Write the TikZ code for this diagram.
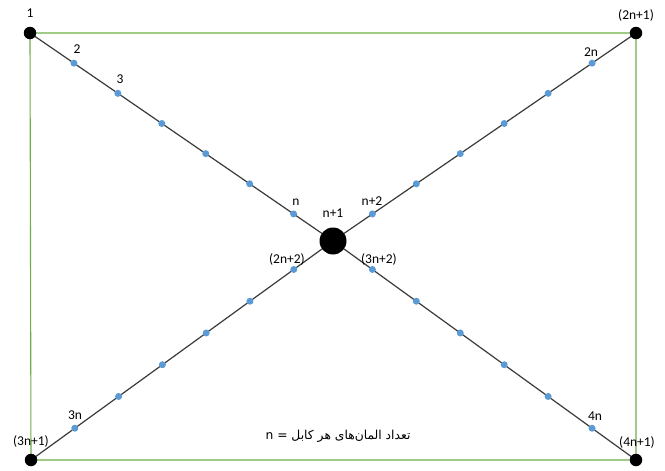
\documentclass[tikz,border=0pt]{standalone}
\usepackage{fontspec}
\setmainfont{Carlito}
\newfontfamily\arabicfont[Script=Arabic]{DejaVu Sans}
\TeXXeTstate=1
\usetikzlibrary{calc}
\definecolor{gline}{HTML}{70AD47}
\definecolor{bdot}{HTML}{5B9BD5}
\definecolor{cable}{HTML}{3A3A3A}
\begin{document}
\begin{tikzpicture}[x=1pt,y=-1pt,
  bigdot/.style={circle,fill=black,inner sep=0pt,minimum size=12.5pt},
  hub/.style={circle,fill=black,inner sep=0pt,minimum size=27pt},
  eldot/.style={circle,fill=bdot,inner sep=0pt,minimum size=7pt},
  lbl/.style={font=\fontsize{13.5}{15}\selectfont,inner sep=0pt},
  frameline/.style={draw=gline,line width=1.1pt},
  cableline/.style={draw=cable,line width=1.2pt}]
\useasboundingbox (0,0) rectangle (665,471);
\coordinate (p1) at (30,33);
\coordinate (p2) at (636,33);
\coordinate (p3) at (31,460);
\coordinate (p4) at (636,460);
\coordinate (pm) at (333,241);
% frame
\draw[frameline] (p1) -- (p2) -- (p4) -- (p3) -- cycle;
% cables
\foreach \c in {p1,p2,p3,p4} \draw[cableline] (\c) -- (pm);
% element dots
\foreach \c/\n in {p1/a,p2/b,p3/c,p4/d}
  \foreach \k in {1,...,6}
    \node[eldot] (\n\k) at ($(\c)!{\k*0.145}!(pm)$) {};
% nodes
\node[bigdot] (c1) at (p1) {};
\node[bigdot] (c2) at (p2) {};
\node[bigdot] (c3) at (p3) {};
\node[bigdot] (c4) at (p4) {};
\node[hub] (m) at (pm) {};
% labels
\node[lbl] (l1) at (30,13) {1};
\node[lbl] (l2) at (77,49) {2};
\node[lbl] (l3) at (120,79) {3};
\node[lbl] (ln) at (296,202) {n};
\node[lbl] (lm) at (333,213) {n+1};
\node[lbl] (lnp) at (372,201) {n+2};
\node[lbl] (l2n2) at (287,259) {(2n+2)};
\node[lbl] (l3n2) at (379,259) {(3n+2)};
\node[lbl] (l2n) at (591,52) {2n};
\node[lbl] (l2n1) at (636,15) {(2n+1)};
\node[lbl] (l3n) at (75,415) {3n};
\node[lbl] (l3n1) at (31,441) {(3n+1)};
\node[lbl] (l4n) at (595,416) {4n};
\node[lbl] (l4n1) at (637,442) {(4n+1)};
\node[inner sep=0pt,font=\fontsize{12.3}{14}\arabicfont] (cap) at (338,436) {\beginR تعداد المان‌های هر کابل = n\endR};
\end{tikzpicture}
\end{document}
